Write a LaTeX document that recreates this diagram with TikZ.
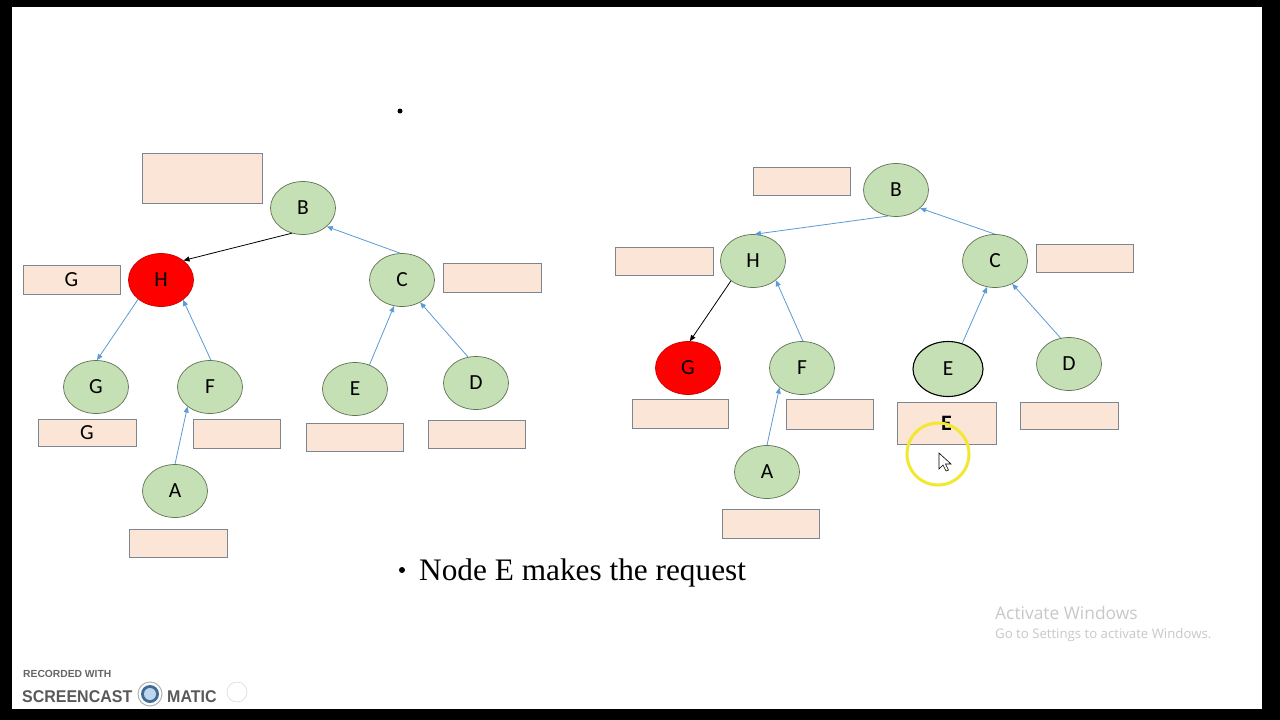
\documentclass[tikz,border=0pt]{standalone}
\usepackage{fontspec}
\setmainfont{Liberation Serif}
\newfontfamily\carl{Carlito}
\newfontfamily\winfont{Open Sans}
\newfontfamily\scfont{Liberation Sans}
\usetikzlibrary{shapes.geometric,arrows.meta}
\definecolor{nodegreen}{RGB}{197,224,180}
\definecolor{nodeedge}{RGB}{95,115,85}
\definecolor{peach}{RGB}{251,229,214}
\definecolor{boxedge}{RGB}{125,133,145}
\definecolor{arrblue}{RGB}{91,155,213}
\definecolor{winGray}{RGB}{200,200,200}
\definecolor{hiYellow}{RGB}{242,232,50}
\tikzset{
  gnode/.style={ellipse, draw=nodeedge, fill=nodegreen, line width=0.7pt,
    minimum width=65pt, minimum height=53pt, inner sep=0pt, font=\carl\fontsize{21.5}{21.5}\selectfont},
  rnode/.style={gnode, fill=red, draw=red!80!black},
  pbox/.style={rectangle, draw=boxedge, fill=peach, line width=0.9pt,
    minimum width=97pt, minimum height=28pt, inner sep=0pt, font=\carl\fontsize{21.5}{21.5}\selectfont},
  blu/.style={draw=arrblue, line width=0.8pt, -{Triangle[length=6pt,width=5pt]}},
  blk/.style={draw=black, line width=0.8pt, -{Triangle[length=6pt,width=5pt]}}
}
\begin{document}
\begin{tikzpicture}[x=1pt,y=-1pt]
\fill[black] (0,0) rectangle (1280,720);
\fill[white] (12,7) rectangle (1262,709);
\useasboundingbox (0,0) rectangle (1280,720);

% top bullet
\fill[black] (400,111) circle (2.5);

% ---------- left tree ----------
\node[gnode] (lB) at (303,208) {B};
\node[rnode] (lH) at (161,280) {H};
\node[gnode] (lC) at (402,280) {C};
\node[gnode] (lG) at (96,387) {G};
\node[gnode] (lF) at (210,387) {F};
\node[gnode] (lE) at (355,389) {E};
\node[gnode] (lD) at (476,383) {D};
\node[gnode] (lA) at (175,491) {A};

\node[pbox, minimum width=120pt, minimum height=50pt] (lbTop) at (202,178) {};
\node[pbox, minimum height=29pt] (lbH) at (71.5,279.5) {G};
\node[pbox, minimum width=98pt, minimum height=29pt] (lbC) at (492,277.5) {};
\node[pbox, minimum width=98pt, minimum height=27pt] (lbG) at (87,432.5) {G};
\node[pbox, minimum width=87pt, minimum height=29pt] (lbF) at (236.5,433.5) {};
\node[pbox] (lbE) at (354.5,437) {};
\node[pbox] (lbD) at (476.5,434) {};
\node[pbox, minimum width=98pt] (lbA) at (178,543) {};

\draw[blk] (lB.246) -- (lH.41);
\draw[blu] (lC.94) -- (lB.322);
\draw[blu] (lH.220) -- (lG.88);
\draw[blu] (lF.88) -- (lH.318);
\draw[blu] (lA.90) -- (lF.221);
\draw[blu] (lE.59) -- (lC.253);
\draw[blu] (lD.107) -- (lC.309);

% ---------- right tree ----------
\node[gnode] (rB) at (896,190) {B};
\node[gnode] (rH) at (753,261) {H};
\node[gnode] (rC) at (995,261) {C};
\node[rnode] (rG) at (688,368) {G};
\node[gnode] (rF) at (802,368) {F};
\node[gnode, draw=black, line width=1.1pt, minimum width=70pt, minimum height=55pt] (rE) at (948,369) {E};
\node[gnode] (rD) at (1069,364) {D};
\node[gnode] (rA) at (767,472) {A};

\node[pbox] (rbTop) at (801.5,181) {};
\node[pbox, minimum width=98pt] (rbH) at (664,261) {};
\node[pbox] (rbC) at (1084.5,258) {};
\node[pbox, minimum width=96pt, minimum height=29pt] (rbG) at (680,413.5) {};
\node[pbox, minimum width=87pt, minimum height=30pt] (rbF) at (829.5,414) {};
\node[pbox, minimum width=99pt, minimum height=42pt, font=\carl\bfseries\fontsize{22}{22}\selectfont] (rbE) at (946.5,423) {E};
\node[pbox, minimum width=98pt, minimum height=27pt] (rbD) at (1069,415.5) {};
\node[pbox, minimum height=29pt] (rbA) at (770.5,523.5) {};

\draw[blu] (rB.253) -- (rH.86);
\draw[blu] (rC.90) -- (rB.323);
\draw[blk] (rH.222) -- (rG.86);
\draw[blu] (rF.88) -- (rH.320);
\draw[blu] (rA.90) -- (rF.221);
\draw[blu] (rE.61) -- (rC.253);
\draw[blu] (rD.108) -- (rC.307);

% highlight circle and cursor
\draw[hiYellow, line width=3pt] (938,454) circle (31);
\filldraw[fill=white, draw=black, line width=0.6pt]
  (939,453) -- (939,469) -- (943,465) -- (946,471) -- (948.5,470) -- (945.5,464) -- (951,464) -- cycle;

% bottom bullet text
\fill[black] (402,570) circle (3);
\node[anchor=base west, inner sep=0pt, font=\fontsize{31.3}{31.3}\selectfont] (txt) at (419,580) {Node E makes the request};

% Activate Windows watermark
\node[anchor=base west, inner sep=0pt, text=winGray, font=\winfont\fontsize{17.4}{18}\selectfont] (aw1) at (995,619) {Activate Windows};
\node[anchor=base west, inner sep=0pt, text=winGray, font=\winfont\fontsize{13.2}{13.2}\selectfont] (aw2) at (995,638) {Go to Settings to activate Windows.};

% Screencast-O-Matic watermark
\node[anchor=base west, inner sep=0pt, text=gray!80!black, font=\scfont\bfseries\fontsize{10.3}{10.3}\selectfont] (sc1) at (23,677) {RECORDED WITH};
\node[anchor=base west, inner sep=0pt, text=gray!70!black, font=\scfont\bfseries\fontsize{17}{17}\selectfont, xscale=0.94, transform shape] (sc2) at (22,702) {SCREENCAST};
\draw[gray!60, line width=1pt] (150,694) circle (12);
\fill[arrblue!70!black] (150,694) circle (9);
\fill[arrblue!40] (150,694) circle (6);
\node[anchor=base west, inner sep=0pt, text=gray!70!black, font=\scfont\bfseries\fontsize{17}{17}\selectfont, xscale=0.94, transform shape] (sc3) at (167,702) {MATIC};
\draw[gray!30, line width=0.6pt] (237,692) circle (10);
\end{tikzpicture}
\end{document}
